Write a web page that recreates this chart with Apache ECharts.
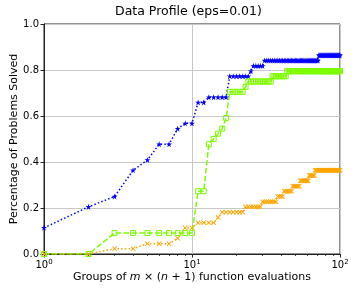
<!DOCTYPE html>
<html>
<head>
<meta charset="utf-8">
<script src="https://cdn.jsdelivr.net/npm/echarts@6/dist/echarts.min.js"></script>
<style>html,body{margin:0;padding:0;background:#fff;}#c{width:357px;height:297px;}</style>
</head>
<body>
<div id="c"></div>
<script>
// Groups of m*(n+1) function evaluations
var evals = [1,2,3,4,5,6,7,8,9,10,11,12,13,14,15,16,17,18,19,20,21,22,23,24,25,26,27,28,29,30,31,32,33,34,35,36,37,38,39,40,41,42,43,44,45,46,47,48,49,50,51,52,53,54,55,56,57,58,59,60,61,62,63,64,65,66,67,68,69,70,71,72,73,74,75,76,77,78,79,80,81,82,83,84,85,86,87,88,89,90,91,92,93,94,95,96,97,98,99,100];

var blueSolved = [0.114,0.205,0.25,0.364,0.409,0.477,0.477,0.545,0.568,0.568,
0.659,0.659,0.682,0.682,0.682,0.682,0.682,0.773,0.773,0.773,
0.773,0.773,0.773,0.773,0.795,0.818,0.818,0.818,0.818,0.818,
0.841,0.841,0.841,0.841,0.841,0.841,0.841,0.841,0.841,0.841,
0.841,0.841,0.841,0.841,0.841,0.841,0.841,0.841,0.841,0.841,
0.841,0.841,0.841,0.841,0.841,0.841,0.841,0.841,0.841,0.841,
0.841,0.841,0.841,0.841,0.841,0.841,0.841,0.841,0.841,0.841,
0.841,0.864,0.864,0.864,0.864,0.864,0.864,0.864,0.864,0.864,
0.864,0.864,0.864,0.864,0.864,0.864,0.864,0.864,0.864,0.864,
0.864,0.864,0.864,0.864,0.864,0.864,0.864,0.864,0.864,0.864];

var greenSolved = [0,0,0.091,0.091,0.091,0.091,0.091,0.091,0.091,0.091,
0.273,0.273,0.477,0.5,0.523,0.545,0.591,0.705,0.705,0.705,
0.705,0.705,0.727,0.75,0.75,0.75,0.75,0.75,0.75,0.75,
0.75,0.75,0.75,0.75,0.773,0.773,0.773,0.773,0.773,0.773,
0.773,0.773,0.773,0.795,0.795,0.795,0.795,0.795,0.795,0.795,
0.795,0.795,0.795,0.795,0.795,0.795,0.795,0.795,0.795,0.795,
0.795,0.795,0.795,0.795,0.795,0.795,0.795,0.795,0.795,0.795,
0.795,0.795,0.795,0.795,0.795,0.795,0.795,0.795,0.795,0.795,
0.795,0.795,0.795,0.795,0.795,0.795,0.795,0.795,0.795,0.795,
0.795,0.795,0.795,0.795,0.795,0.795,0.795,0.795,0.795,0.795];

var orangeSolved = [0,0,0.023,0.023,0.045,0.045,0.045,0.068,0.114,0.114,
0.136,0.136,0.136,0.136,0.159,0.182,0.182,0.182,0.182,0.182,
0.182,0.182,0.205,0.205,0.205,0.205,0.205,0.205,0.205,0.227,
0.227,0.227,0.227,0.227,0.227,0.227,0.227,0.25,0.25,0.25,
0.25,0.273,0.273,0.273,0.273,0.273,0.273,0.295,0.295,0.295,
0.295,0.295,0.295,0.318,0.318,0.318,0.318,0.318,0.318,0.318,
0.318,0.341,0.341,0.341,0.341,0.341,0.341,0.364,0.364,0.364,
0.364,0.364,0.364,0.364,0.364,0.364,0.364,0.364,0.364,0.364,
0.364,0.364,0.364,0.364,0.364,0.364,0.364,0.364,0.364,0.364,
0.364,0.364,0.364,0.364,0.364,0.364,0.364,0.364,0.364,0.364];

var yTicks = [0, 0.2, 0.4, 0.6, 0.8, 1.0];
var xMajorTicks = [1, 10, 100];
var xMinorTicks = [2,3,4,5,6,7,8,9,20,30,40,50,60,70,80,90];

function pairs(xs, ys) { var out = []; for (var i = 0; i < xs.length; i++) out.push([xs[i], ys[i]]); return out; }

var FONT = 'DejaVu Sans';
var STAR = 'path://M5,0 L6.2,3.6 L10,3.6 L6.9,5.8 L8.1,9.5 L5,7.2 L1.9,9.5 L3.1,5.8 L0,3.6 L3.8,3.6 Z';
var XMARK = 'path://M0,1.2 L1.2,0 L5,3.8 L8.8,0 L10,1.2 L6.2,5 L10,8.8 L8.8,10 L5,6.2 L1.2,10 L0,8.8 L3.8,5 Z';

var chart = echarts.init(document.getElementById('c'), null, {renderer: 'canvas'});
chart.setOption({
  animation: false,
  backgroundColor: '#ffffff',
  title: {
    text: 'Data Profile (eps=0.01)',
    left: 115, top: 5, padding: 0,
    textStyle: {fontFamily: FONT, fontSize: 12.5, fontWeight: 'normal', color: '#000'}
  },
  grid: {left: 44, right: 17, top: 24, bottom: 43, containLabel: false, outerBoundsMode: 'none',
    show: true, borderColor: '#222', borderWidth: 1, backgroundColor: 'transparent'},
  xAxis: [{
    type: 'log', logBase: 10, min: 1, max: 100,
    name: 'Groups of {i|m} × ({i|n} + 1) function evaluations',
    nameLocation: 'middle', nameGap: 18, nameMoveOverlap: false,
    nameTextStyle: {fontFamily: FONT, fontSize: 11, color: '#000',
      rich: {i: {fontFamily: FONT, fontSize: 11, fontStyle: 'italic', color: '#000'}}},
    axisLine: {show: true, lineStyle: {color: '#222', width: 1}},
    axisTick: {show: true, length: 3.5, inside: false, customValues: xMajorTicks, lineStyle: {color: '#222', width: 1}},
    axisLabel: {
      margin: 5, customValues: xMajorTicks,
      formatter: function (v) { return '{b|10}{s|' + Math.round(Math.log10(v)) + '}'; },
      rich: {b: {fontFamily: FONT, fontSize: 10, color: '#000'}, s: {fontFamily: FONT, fontSize: 7, color: '#000', verticalAlign: 'top', padding: [0,0,5,0]}}
    },
    splitLine: {show: true, lineStyle: {color: '#c8c8c8', width: 1}}
  }, {
    type: 'log', logBase: 10, min: 1, max: 100, position: 'bottom',
    axisLine: {show: false},
    axisTick: {show: true, length: 2, inside: false, customValues: xMinorTicks, lineStyle: {color: '#222', width: 0.8}},
    axisLabel: {show: false},
    splitLine: {show: false}
  }],
  yAxis: {
    type: 'value', min: 0, max: 1, interval: 0.2,
    name: 'Percentage of Problems Solved',
    nameLocation: 'middle', nameGap: 24, nameMoveOverlap: false,
    nameTextStyle: {fontFamily: FONT, fontSize: 11, color: '#000'},
    axisLine: {show: true, lineStyle: {color: '#222', width: 1}},
    axisTick: {show: true, length: 3.5, inside: false, lineStyle: {color: '#222', width: 1}},
    axisLabel: {margin: 5, fontFamily: FONT, fontSize: 10, color: '#000', formatter: function (v) { return v.toFixed(1); }},
    splitLine: {show: true, lineStyle: {color: '#c8c8c8', width: 1}}
  },
  series: [{
    name: 'blue', type: 'line', xAxisIndex: 0, data: pairs(evals, blueSolved),
    symbol: STAR, symbolSize: 6, showSymbol: true,
    lineStyle: {color: '#0000ff', width: 1.5, type: [1.5, 2.2]},
    itemStyle: {color: '#0000ff'}
  }, {
    name: 'orange', type: 'line', xAxisIndex: 0, data: pairs(evals, orangeSolved),
    symbol: XMARK, symbolSize: 5, showSymbol: true,
    lineStyle: {color: '#ffa500', width: 1.5, type: [1.5, 2.2]},
    itemStyle: {color: '#ffa500'}
  }, {
    name: 'green', type: 'line', xAxisIndex: 0, data: pairs(evals, greenSolved),
    symbol: 'rect', symbolSize: 5, showSymbol: true,
    lineStyle: {color: '#7cfc00', width: 1.5, type: [5.5, 2.4]},
    itemStyle: {color: 'rgba(0,0,0,0)', borderColor: '#7cfc00', borderWidth: 1}
  }]
});
</script>
</body>
</html>
